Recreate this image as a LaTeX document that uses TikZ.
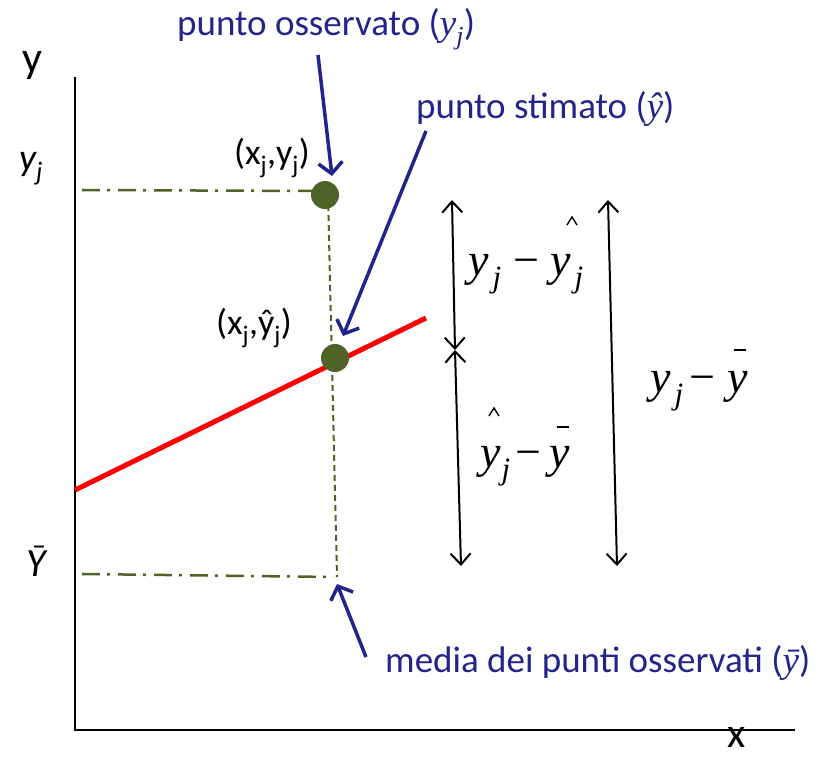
\documentclass[tikz,border=0pt]{standalone}
\usepackage{fontspec}
\setmainfont{Carlito}
\newfontfamily\tnr{Liberation Serif}
\usetikzlibrary{arrows.meta}
\definecolor{bluelab}{HTML}{23238C}
\definecolor{olivegreen}{HTML}{4F6228}
\definecolor{regred}{HTML}{FF0000}
\newcommand{\subj}{\raisebox{-12pt}{\tnr\itshape\fontsize{31}{34}\selectfont j}}
\tikzset{
  bluetext/.style={text=bluelab, font=\fontsize{37}{40}\selectfont, anchor=west, inner sep=0pt},
  bluearrow/.style={draw=bluelab, line width=3.5pt, -{Straight Barb[length=11pt,width=24pt,line width=3.5pt]}},
  blackarrow/.style={draw=black, line width=2pt, {Straight Barb[length=11pt,width=20pt,line width=2pt]}-{Straight Barb[length=11pt,width=20pt,line width=2pt]}},
  dashdot/.style={draw=olivegreen, line width=2.5pt, dash pattern=on 18pt off 7pt on 3pt off 8pt},
  vdash/.style={draw=olivegreen, line width=2pt, dash pattern=on 6pt off 4pt},
  pt/.style={circle, fill=olivegreen, minimum size=28pt, inner sep=0pt},
  formula/.style={font=\tnr\itshape\fontsize{46}{50}\selectfont, anchor=base west, inner sep=0pt},
  accentline/.style={draw=black, line width=1.4pt},
  axlab/.style={font=\fontsize{44}{48}\selectfont, inner sep=0pt},
  ptlab/.style={font=\fontsize{36}{40}\selectfont, inner sep=0pt},
}
\begin{document}
\begin{tikzpicture}[x=1pt,y=-1pt]
\useasboundingbox (0,0) rectangle (836,758);
% axes
\coordinate (ytop) at (75,77);
\coordinate (orig) at (75,730);
\coordinate (xend) at (795,730);
\draw[line width=2pt] (ytop) -- (orig) -- (xend);
\node[axlab] (ylab) at (32,66) {y};
\node[axlab, font=\fontsize{42}{46}\selectfont] (xlab) at (737,737) {x};
\node[font=\itshape\fontsize{38}{42}\selectfont, inner sep=0pt] (yjlab) at (31,169) {y\textsubscript{j}};
\node[font=\itshape\fontsize{40}{44}\selectfont, inner sep=0pt] (ybarlab) at (36,561) {\=Y};
% regression line
\coordinate (r1) at (75,490);
\coordinate (r2) at (426,318);
\draw[regred, line width=5pt] (r1) -- (r2);
% dash-dot guides
\coordinate (g1) at (82,190);
\coordinate (g1e) at (312,191);
\coordinate (g2) at (82,574);
\coordinate (g2e) at (334,577);
\draw[dashdot] (g1) -- (g1e);
\draw[dashdot] (g2) -- (g2e);
% vertical dashed
\coordinate (vtop) at (328,195);
\coordinate (vbot) at (337,577);
\draw[vdash] (vtop) -- (vbot);
% points
\node[pt] (p1) at (325,195) {};
\node[pt] (p2) at (335,358) {};
\node[ptlab] (p1lab) at (272,158) {(x\textsubscript{j},y\textsubscript{j})};
\node[ptlab] (p2lab) at (254,328) {(x\textsubscript{j},ŷ\textsubscript{j})};
% blue labels
\node[bluetext] (lab1) at (177,29) {punto osservato ({\tnr\itshape y\textsubscript{j}})};
\node[bluetext] (lab2) at (416,109) {punto stimato ({\tnr\itshape ŷ})};
\node[bluetext] (lab3) at (385,663) {media dei punti osservati ({\tnr\itshape ȳ})};
\coordinate (a1s) at (318,55);
\coordinate (a1e) at (332,176);
\coordinate (a2s) at (426,131);
\coordinate (a2e) at (343,336);
\coordinate (a3s) at (366,657);
\coordinate (a3e) at (337,584);
\draw[bluearrow] (a1s) -- (a1e);
\draw[bluearrow] (a2s) -- (a2e);
\draw[bluearrow] (a3s) -- (a3e);
% black double arrows
\coordinate (b1) at (452,200);
\coordinate (b2) at (455,350);
\coordinate (b3) at (461,566);
\coordinate (c1) at (608,200);
\coordinate (c2) at (617,566);
\draw[blackarrow] (b1) -- (b2);
\draw[blackarrow] (b2) -- (b3);
\draw[blackarrow] (c1) -- (c2);
% formulas
\node[formula] (f1) at (468,275) {y\hspace{4pt}\subj\hspace{12pt}{\upshape −}\hspace{11pt}y\hspace{4pt}\subj};
\node[formula] (f2) at (650,392) {y\hspace{4pt}\subj\hspace{6pt}{\upshape −}\hspace{12pt}y};
\node[formula] (f3) at (480,467) {y\hspace{1pt}\subj\hspace{5pt}{\upshape −}\hspace{8pt}y};
% accents (hat and bar marks)
\coordinate (h1) at (572,221);
\coordinate (h3) at (494,412);
\coordinate (m2) at (740,350);
\coordinate (m3) at (563,427);
\draw[accentline] ([shift={(-5,4)}]h1) -- ([shift={(0,-4)}]h1) -- ([shift={(5,4)}]h1);
\draw[accentline] ([shift={(-5,4)}]h3) -- ([shift={(0,-4)}]h3) -- ([shift={(5,4)}]h3);
\draw[accentline] ([shift={(-6,0)}]m2) -- ([shift={(6,0)}]m2);
\draw[accentline] ([shift={(-6,0)}]m3) -- ([shift={(6,0)}]m3);
\end{tikzpicture}
\end{document}
